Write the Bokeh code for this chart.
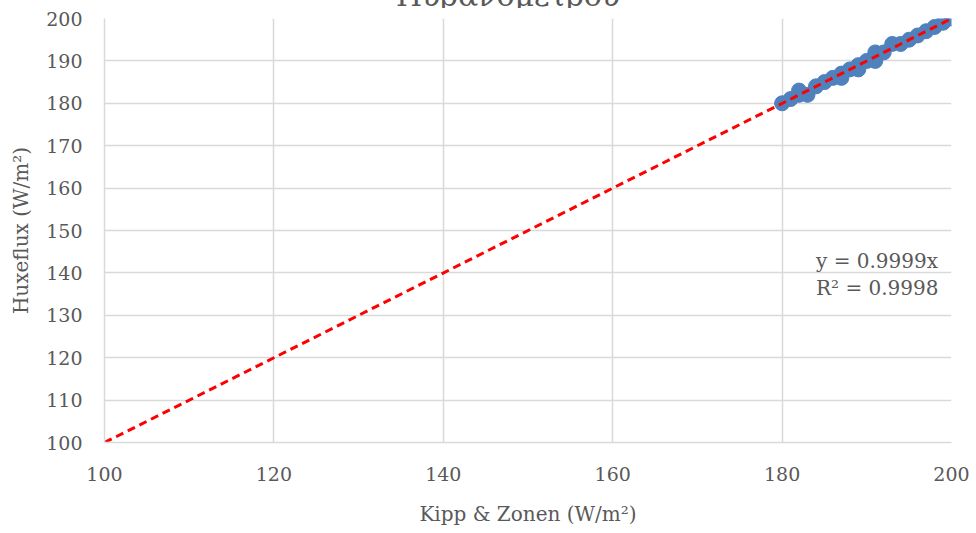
from bokeh.plotting import figure
from bokeh.layouts import column
from bokeh.models import Range1d, SingleIntervalTicker, Label, Div
from bokeh.embed import file_html
from bokeh.resources import INLINE

title_text = "Πυρανόμετρου"
x_label = "Kipp & Zonen (W/m²)"
y_label = "Huxeflux (W/m²)"

kipp = [180, 181, 182, 182, 183, 184, 185, 186, 187, 187, 188, 189, 189, 190,
        191, 191, 192, 193, 194, 195, 196, 197, 198, 199, 200]
huxe = [180, 181, 183, 182, 182, 184, 185, 186, 187, 186, 188, 189, 188, 190,
        192, 190, 192, 194, 194, 195, 196, 197, 198, 199, 200]

slope = 0.9999
trend_x = [100, 200]
trend_y = [slope * v for v in trend_x]
eq1 = "y = 0.9999x"
eq2 = "R² = 0.9998"

FONT = "DejaVu Serif"
GREY = "#595959"

STRIP = 8
# thin strip above the chart: the title is cut off by the page top, as in the original
top = Div(
    text=('<div style="position:relative; top:-19px; margin-left:40px; '
          'text-align:center; width:936px; white-space:nowrap; '
          f'font-family:\'{FONT}\'; font-size:30px; line-height:30px; color:{GREY};">'
          f'{title_text}</div>'),
    width=976, height=STRIP,
    styles={"overflow": "hidden", "margin": "0", "padding": "0"},
)

p = figure(width=976, height=533 - STRIP, output_backend="svg", toolbar_location=None,
           x_range=Range1d(100, 200), y_range=Range1d(100, 200),
           min_border_left=104, min_border_right=25, min_border_top=18 - STRIP,
           min_border_bottom=91)
p.outline_line_color = None
p.background_fill_color = "white"
p.border_fill_color = "white"

p.xaxis.ticker = SingleIntervalTicker(interval=20)
p.yaxis.ticker = SingleIntervalTicker(interval=10)
for ax in (p.xaxis, p.yaxis):
    ax.major_tick_line_color = None
    ax.minor_tick_line_color = None
    ax.axis_line_color = "#D9D9D9"
    ax.axis_line_width = 1.5
    ax.major_label_text_font = FONT
    ax.major_label_text_font_size = "19px"
    ax.major_label_text_color = GREY
    ax.major_label_text_line_height = 1.0
    ax.axis_label_text_font = FONT
    ax.axis_label_text_font_size = "20px"
    ax.axis_label_text_color = GREY
    ax.axis_label_text_font_style = "normal"
p.xaxis.axis_label = x_label
p.yaxis.axis_label = y_label
p.xaxis.major_label_standoff = 18
p.yaxis.major_label_standoff = 16
p.xaxis.axis_label_standoff = 18
p.yaxis.axis_label_standoff = 10

p.xgrid.grid_line_color = "#D9D9D9"
p.ygrid.grid_line_color = "#D9D9D9"
p.xgrid.grid_line_width = 1.5
p.ygrid.grid_line_width = 1.5

p.scatter(kipp, huxe, size=15, fill_color="#4F81BD", line_color="#4F81BD")
p.line(trend_x, trend_y, line_color="#FF0000", line_width=3, line_dash="8 5")

p.add_layout(Label(x=184.0, y=142.9, text=eq1, text_font=FONT, text_font_size="20px",
                   text_color=GREY, text_baseline="middle", text_align="left"))
p.add_layout(Label(x=184.0, y=136.5, text=eq2, text_font=FONT, text_font_size="20px",
                   text_color=GREY, text_baseline="middle", text_align="left"))

layout = column(top, p, spacing=0)
open("out.html", "w").write(file_html(layout, INLINE))
